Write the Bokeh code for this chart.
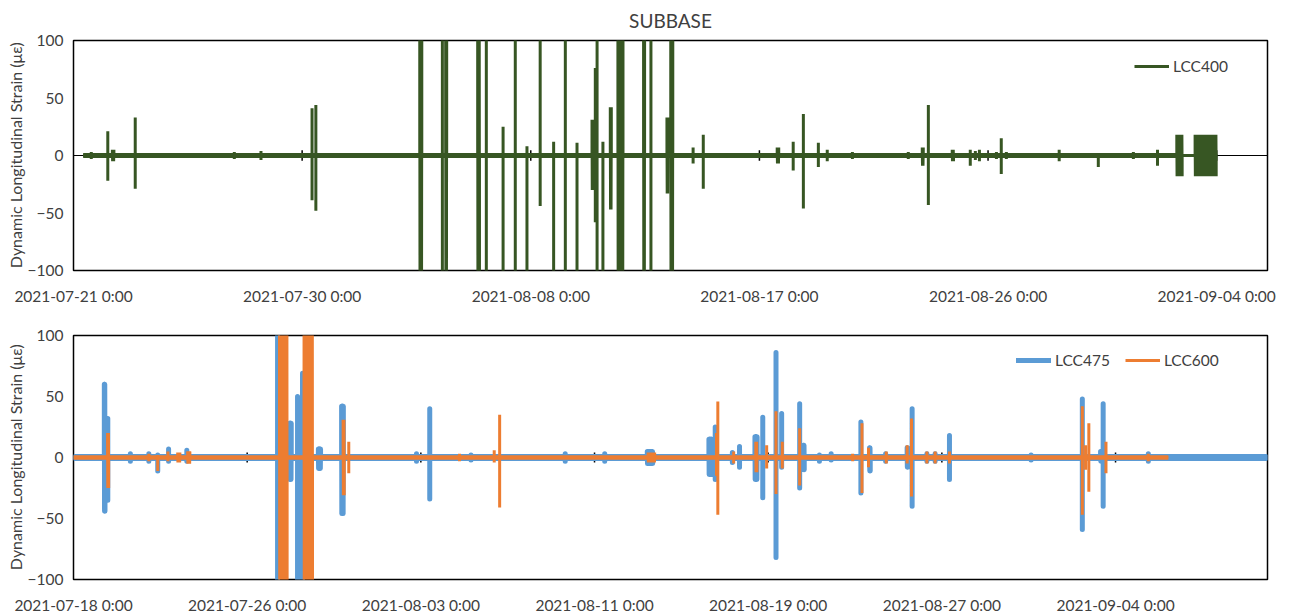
import pandas as pd
from bokeh.plotting import figure
from bokeh.layouts import column
from bokeh.models import Range1d, FixedTicker, Span
from bokeh.embed import file_html
from bokeh.resources import INLINE

# ---------------- data ----------------
# Times are day offsets from each panel's origin date; strains in microstrain.
# Each event: time, peak, trough, burst width in days (0 = single swing).

TITLE = "SUBBASE"

TOP_ORIGIN = "2021-07-21"
TOP_END_DAY = 47
top_tick_labels = ["2021-07-21 0:00", "2021-07-30 0:00", "2021-08-08 0:00",
                   "2021-08-17 0:00", "2021-08-26 0:00", "2021-09-04 0:00"]

lcc400_span = (0.38, 45.04)
lcc400_t = [0.70, 1.35, 1.53, 2.43, 6.33, 7.38, 9.39, 9.54, 13.63, 14.52,
            14.65, 15.91, 16.25, 16.91, 17.39, 17.85, 18.37, 18.90, 19.36, 19.82,
            20.41, 20.54, 20.61, 20.84, 21.13, 21.43, 22.44, 22.73, 23.36, 23.51,
            24.39, 24.79, 25.74, 27.70, 28.33, 28.73, 29.32, 29.67, 30.66, 31.68,
            32.86, 33.41, 33.65, 34.59, 35.30, 35.50, 35.66, 36.33, 36.52, 36.72,
            38.80, 40.34, 41.72, 42.67, 43.43, 44.15]
lcc400_hi = [3, 21, 5, 33, 3, 4, 41, 44, 130, 130,
             130, 130, 130, 25, 130, 8, 130, 12, 130, 11,
             31, 76, 130, 12, 42, 130, 130, 130, 33, 130,
             7, 18, 2, 7, 12, 36, 11, 5, 3, 2,
             3, 7, 44, 5, 5, 4, 5, 3, 15, 3,
             5, 2, 3, 5, 18, 18]
lcc400_lo = [-3, -22, -5, -29, -3, -4, -39, -48, -130, -130,
             -130, -130, -130, -130, -130, -130, -44, -130, -130, -130,
             -30, -58, -130, -130, -47, -130, -130, -130, -33, -130,
             -7, -29, -2, -7, -13, -46, -10, -5, -3, -2,
             -3, -9, -43, -5, -9, -4, -5, -3, -16, -3,
             -5, -10, -3, -9, -18, -18]
lcc400_w = [0, 0, 0.06, 0, 0, 0, 0, 0, 0.08, 0,
            0.04, 0.07, 0, 0, 0, 0, 0, 0, 0, 0,
            0.04, 0, 0, 0, 0.04, 0.20, 0.04, 0, 0.04, 0.08,
            0, 0, 0, 0.06, 0, 0, 0, 0, 0, 0,
            0, 0.04, 0, 0.05, 0, 0, 0, 0, 0, 0,
            0, 0, 0, 0, 0.21, 0.83]

BOT_ORIGIN = "2021-07-18"
BOT_END_DAY = 55
bot_tick_labels = ["2021-07-18 0:00", "2021-07-26 0:00", "2021-08-03 0:00",
                   "2021-08-11 0:00", "2021-08-19 0:00", "2021-08-27 0:00",
                   "2021-09-04 0:00"]

lcc475_span = (0.0, 55.0)
lcc475_t = [1.42, 1.58, 2.62, 3.47, 3.88, 4.38, 5.22, 9.40, 9.95, 10.32,
            10.55, 11.28, 12.35, 15.80, 16.41, 18.31, 22.65, 24.47, 26.43, 29.27,
            29.56, 30.35, 30.68, 31.39, 31.75, 32.36, 32.62, 33.45, 33.63, 34.36,
            34.90, 36.27, 36.67, 37.41, 38.40, 38.63, 39.31, 39.69, 40.35, 44.11,
            46.47, 47.31, 47.43, 49.51]
lcc475_hi = [60, 32, 3, 3, 2, 7, 6, 130, 28, 50,
             69, 7, 42, 3, 40, 2, 3, 3, 5, 15,
             25, 4, 9, 17, 33, 86, 36, 44, 10, 2,
             3, 29, 8, 3, 8, 40, 3, 3, 18, 2,
             48, 5, 44, 3]
lcc475_lo = [-44, -35, -3, -3, -11, -3, -3, -130, -18, -130,
             -130, -9, -46, -3, -34, -2, -3, -3, -5, -14,
             -18, -4, -8, -18, -33, -82, -8, -25, -10, -3,
             -2, -29, -11, -3, -8, -40, -3, -3, -18, -2,
             -59, -3, -40, -3]
lcc475_w = [0.03, 0, 0, 0, 0, 0, 0, 0, 0.08, 0,
            0, 0.10, 0.08, 0, 0, 0, 0, 0, 0.25, 0.15,
            0, 0, 0, 0.10, 0, 0, 0, 0, 0.03, 0,
            0, 0, 0.03, 0, 0.03, 0, 0, 0, 0, 0,
            0, 0.03, 0, 0]

lcc600_span = (0.0, 50.43)
lcc600_t = [1.57, 3.47, 3.88, 4.35, 4.80, 5.26, 9.49, 10.62, 12.42, 12.68,
            17.78, 19.38, 19.63, 26.47, 29.62, 29.68, 30.41, 31.43, 31.93, 32.36,
            32.65, 33.45, 35.89, 36.32, 36.62, 37.44, 38.40, 38.60, 39.31, 39.69,
            40.35, 46.47, 46.62, 46.77, 47.56, 49.51]
lcc600_hi = [20, 3, 2, 5, 4, 5, 130, 130, 31, 13,
             3, 6, 35, 4, 20, 46, 5, 13, 10, 38,
             13, 24, 3, 28, 8, 5, 10, 32, 5, 5,
             5, 42, 10, 28, 13, 3]
lcc600_lo = [-25, -3, -11, -3, -4, -5, -130, -130, -31, -13,
             -3, -4, -41, -4, -15, -47, -5, -12, -9, -30,
             -9, -23, -3, -29, -8, -5, -5, -32, -5, -5,
             -5, -47, -10, -28, -13, -3]
lcc600_w = [0.05, 0, 0, 0, 0.10, 0.10, 0.35, 0.39, 0.05, 0,
            0, 0, 0, 0.30, 0, 0, 0, 0.05, 0, 0,
            0, 0, 0, 0, 0, 0, 0, 0, 0, 0,
            0, 0, 0, 0, 0, 0]

Y_TICKS = [-100, -50, 0, 50, 100]
Y_TITLE = "Dynamic Longitudinal Strain (με)"

GREEN = "#375623"
BLUE = "#5B9BD5"
ORANGE = "#ED7D31"
TEXT = "#404040"
FONT = "Lato"


# ---------------- helpers ----------------
def to_dates(origin, days):
    return pd.Timestamp(origin) + pd.to_timedelta(list(days), unit="D")


def trace(span, t, hi, lo, w, step=0.01):
    """Polyline through the recorded swings: baseline, peak, trough, back to baseline."""
    xs, ys = [span[0]], [0.0]
    for ti, h, l, wi in sorted(zip(t, hi, lo, w)):
        if wi <= 0:
            xs += [ti, ti, ti, ti]
            ys += [0, h, l, 0]
        else:
            n = max(2, int(round(wi / step)))
            xs.append(ti)
            ys.append(0)
            for k in range(n + 1):
                xs.append(ti + wi * k / n)
                ys.append(h if k % 2 == 0 else l)
            xs.append(ti + wi)
            ys.append(0)
    xs.append(span[1])
    ys.append(0)
    return xs, ys


def tick_ms(labels):
    return [pd.Timestamp(s.split(" ")[0]).value // 10**6 for s in labels]


def make_panel(origin, end_day, labels, height, borders):
    top, bottom, left, right = borders
    start = pd.Timestamp(origin)
    end = start + pd.Timedelta(days=end_day)
    p = figure(width=1290, height=height, x_axis_type="datetime",
               x_range=Range1d(start, end), y_range=Range1d(-100, 100),
               output_backend="svg", toolbar_location=None,
               min_border_top=top, min_border_bottom=bottom,
               min_border_left=left, min_border_right=right)
    p.grid.visible = False
    p.background_fill_color = "white"
    p.border_fill_color = "white"
    p.outline_line_color = "black"
    p.outline_line_width = 1.5
    p.outline_line_alpha = 1.0

    ticks = tick_ms(labels)
    p.xaxis.ticker = FixedTicker(ticks=ticks)
    p.xaxis.major_label_overrides = {t: s for t, s in zip(ticks, labels)}
    p.xaxis.axis_line_color = None
    p.xaxis.major_tick_line_color = None
    p.xaxis.minor_tick_line_color = None
    p.xaxis.major_tick_out = 0
    p.xaxis.major_label_standoff = 16
    p.xaxis.major_label_text_font = FONT
    p.xaxis.major_label_text_font_size = "15.5px"
    p.xaxis.major_label_text_color = TEXT

    p.yaxis.ticker = FixedTicker(ticks=Y_TICKS)
    p.yaxis.axis_line_color = None
    p.yaxis.major_tick_line_color = None
    p.yaxis.minor_tick_line_color = None
    p.yaxis.major_tick_out = 0
    p.yaxis.major_label_standoff = 10
    p.yaxis.major_label_text_font = FONT
    p.yaxis.major_label_text_font_size = "15.5px"
    p.yaxis.major_label_text_color = TEXT
    p.yaxis.axis_label = Y_TITLE
    p.yaxis.axis_label_text_font = FONT
    p.yaxis.axis_label_text_font_size = "16px"
    p.yaxis.axis_label_text_font_style = "normal"
    p.yaxis.axis_label_text_color = TEXT
    p.yaxis.axis_label_standoff = 0

    # horizontal axis crossing at zero
    p.add_layout(Span(location=0, dimension="width", line_color="black",
                      line_width=1, level="underlay"))
    return p, ticks


def zero_ticks(p, ticks, half):
    p.segment(x0=ticks[1:], y0=[-half] * (len(ticks) - 1),
              x1=ticks[1:], y1=[half] * (len(ticks) - 1),
              line_color="black", line_width=1.5)


def style_legend(p, loc, orientation="vertical", spacing=18):
    lg = p.legend[0]
    lg.location = loc
    lg.orientation = orientation
    lg.border_line_color = None
    lg.background_fill_alpha = 0
    lg.padding = 0
    lg.margin = 0
    lg.spacing = spacing
    lg.glyph_width = 35
    lg.label_standoff = 4
    lg.label_text_font = FONT
    lg.label_text_font_size = "15.5px"
    lg.label_text_color = TEXT


# ---------------- top panel: LCC400 ----------------
top, top_ticks = make_panel(TOP_ORIGIN, TOP_END_DAY, top_tick_labels, 308, (40, 38, 73, 23))
top.title.text = TITLE
top.title.align = "center"
top.title.vertical_align = "middle"
top.title.text_font = FONT
top.title.text_font_size = "19px"
top.title.text_font_style = "normal"
top.title.text_color = TEXT
top.title.standoff = 15

zero_ticks(top, top_ticks, 4.5)
gx, gy = trace(lcc400_span, lcc400_t, lcc400_hi, lcc400_lo, lcc400_w)
top.line(to_dates(TOP_ORIGIN, [lcc400_span[0], lcc400_t[-2]]), [0, 0],
         line_color=GREEN, line_width=5)
top.line(to_dates(TOP_ORIGIN, gx), gy, line_color=GREEN, line_width=3,
         legend_label="LCC400")
style_legend(top, (1061, 194))

# ---------------- bottom panel: LCC475 / LCC600 ----------------
bot, bot_ticks = make_panel(BOT_ORIGIN, BOT_END_DAY, bot_tick_labels, 308, (27, 36, 71, 15))

zero_ticks(bot, bot_ticks, 4)
bx, by = trace(lcc475_span, lcc475_t, lcc475_hi, lcc475_lo, lcc475_w)
ox, oy = trace(lcc600_span, lcc600_t, lcc600_hi, lcc600_lo, lcc600_w)
bot.line(to_dates(BOT_ORIGIN, lcc475_span), [0, 0], line_color=BLUE, line_width=7)
bot.line(to_dates(BOT_ORIGIN, bx), by, line_color=BLUE, line_width=5,
         line_cap="round", line_join="round", legend_label="LCC475")
bot.line(to_dates(BOT_ORIGIN, lcc600_span), [0, 0], line_color=ORANGE, line_width=4.5)
bot.line(to_dates(BOT_ORIGIN, ox), oy, line_color=ORANGE, line_width=3,
         legend_label="LCC600")
style_legend(bot, (943, 209), "horizontal", 15)

layout = column(top, bot, spacing=0)
open("out.html", "w").write(file_html(layout, INLINE))
